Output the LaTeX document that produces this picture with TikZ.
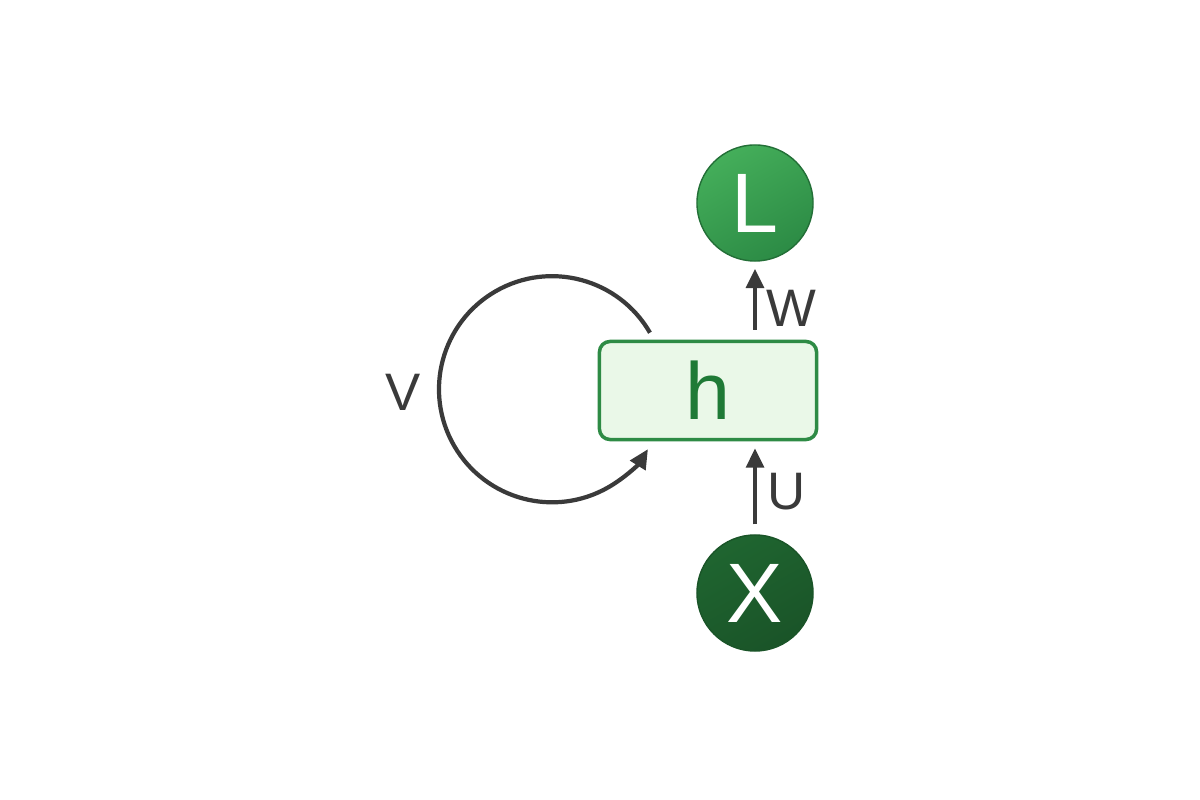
\documentclass[tikz,border=0pt]{standalone}
\usepackage{fontspec}
\setmainfont{Liberation Sans}
\usetikzlibrary{arrows.meta}
\definecolor{gLight}{HTML}{44AE5A}
\definecolor{gMid}{HTML}{2C8B45}
\definecolor{gDark}{HTML}{1F6530}
\definecolor{gDarker}{HTML}{1A5428}
\definecolor{boxfill}{HTML}{EAF8E8}
\definecolor{boxline}{HTML}{2E8B45}
\definecolor{htext}{HTML}{1F7A36}
\definecolor{ink}{HTML}{3A3A3A}
\tikzset{
  bubble/.style={circle, minimum size=1.16cm, inner sep=0pt, text=white, font=\fontsize{24}{28}\selectfont},
  hbox/.style={draw=boxline, line width=1pt, fill=boxfill, rounded corners=3pt, minimum width=2.17cm, minimum height=0.98cm, text=htext, font=\fontsize{23}{27}\selectfont},
  arr/.style={draw=ink, line width=1.2pt, -{Triangle[width=5pt,length=5.5pt]}},
  lbl/.style={text=ink, font=\fontsize{15}{18}\selectfont}
}
\begin{document}
\begin{tikzpicture}[x=0.01cm,y=0.01cm]
\useasboundingbox (0,0) rectangle (1200,800);
\node[bubble, draw=gMid!80!black, line width=0.4pt, top color=gLight, bottom color=gMid, shading angle=30] (L) at (755,597) {L};
\node[bubble, draw=gDarker, line width=0.4pt, top color=gDark, bottom color=gDarker, shading angle=30] (X) at (755,207) {X};
\node[hbox] (h) at (708,409.5) {h};
\draw[arr, shorten <=2.8pt, shorten >=2pt] (X.north) -- (X.north |- h.south);
\draw[arr, shorten <=2.8pt, shorten >=2pt] (L.south |- h.north) -- (L.south);
\node[lbl] (wl) at (791,492) {W};
\node[lbl] (ul) at (787,308) {U};
\node[lbl] (vl) at (403,408) {V};
\coordinate (ls) at ([xshift=-0.58cm,yshift=0.07cm]h.north);
\draw[arr] (ls) arc[start angle=30, end angle=328, radius=1.13cm];
\end{tikzpicture}
\end{document}
